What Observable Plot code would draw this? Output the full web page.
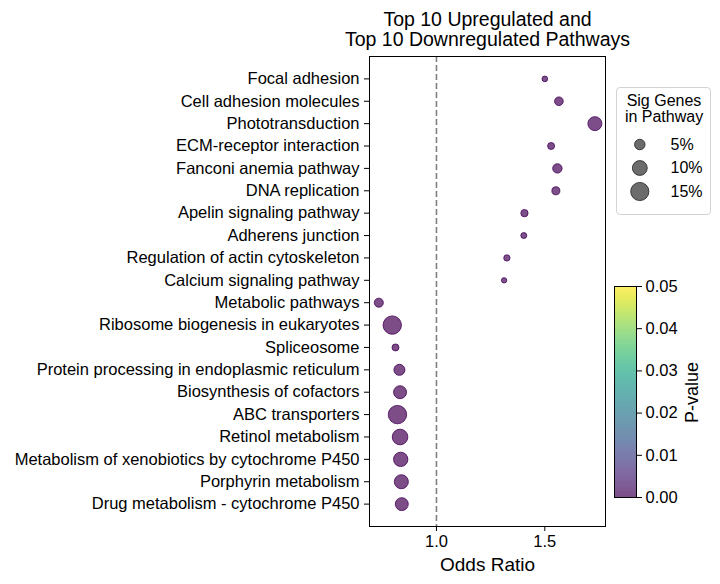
<!DOCTYPE html>
<html><head><meta charset="utf-8">
<script src="https://cdn.jsdelivr.net/npm/d3@7"></script>
<script src="https://cdn.jsdelivr.net/npm/@observablehq/plot@0.6"></script>
<style>
body{margin:0;background:#fff;}
#wrap{position:relative;width:720px;height:584px;font-family:"Liberation Sans",Arial,sans-serif;overflow:hidden;}
.abs{position:absolute;}
#sizeLegend{left:616px;top:87px;width:93px;height:126px;border:1px solid #d3d3d3;border-radius:4px;background:#fff;}
#cbar{left:604px;top:276px;}
#main{left:0;top:0;}
</style></head><body><div id="wrap"><div id="main" class="abs"></div><div id="cbar" class="abs"></div><div id="sizeLegend" class="abs"></div></div>
<script>
// ---- data ----
const pathways = [
  "Focal adhesion",
  "Cell adhesion molecules",
  "Phototransduction",
  "ECM-receptor interaction",
  "Fanconi anemia pathway",
  "DNA replication",
  "Apelin signaling pathway",
  "Adherens junction",
  "Regulation of actin cytoskeleton",
  "Calcium signaling pathway",
  "Metabolic pathways",
  "Ribosome biogenesis in eukaryotes",
  "Spliceosome",
  "Protein processing in endoplasmic reticulum",
  "Biosynthesis of cofactors",
  "ABC transporters",
  "Retinol metabolism",
  "Metabolism of xenobiotics by cytochrome P450",
  "Porphyrin metabolism",
  "Drug metabolism - cytochrome P450"
];
const oddsRatios = [1.500, 1.565, 1.731, 1.529, 1.558, 1.551, 1.406, 1.403, 1.325, 1.312,
                    0.734, 0.796, 0.811, 0.829, 0.832, 0.820, 0.832, 0.835, 0.838, 0.840];
const sigGenePct = [1.45, 3.4, 8.9, 2.2, 4.0, 2.9, 2.4, 1.6, 1.8, 1.3,
                    3.7, 15.3, 2.2, 5.5, 7.6, 15.3, 11.0, 9.3, 8.9, 7.6];
const pValues = [0.0004, 0.0003, 0.0002, 0.0005, 0.0003, 0.0004, 0.0006, 0.0007, 0.0008, 0.0009,
                 0.0001, 0.0001, 0.0002, 0.0001, 0.0001, 0.0001, 0.0001, 0.0001, 0.0001, 0.0001];
const xTicks = [1.0, 1.5];
const legendPct = [5, 10, 15];
const legendLabels = ["5%", "10%", "15%"];
const cbarTicks = [0, 0.01, 0.02, 0.03, 0.04, 0.05];
const titleText = "Top 10 Upregulated and\nTop 10 Downregulated Pathways";

// ---- shared scales ----
const FONT = '"Liberation Sans", Arial, sans-serif';
const rScale = () => ({type: "sqrt", domain: [0, 15], range: [0, 9.1]});
const colorScale = () => ({type: "linear", scheme: "viridis", domain: [0, 0.05]});

const data = pathways.map((p, i) => ({pathway: p, or: oddsRatios[i], pct: sigGenePct[i], p: pValues[i]}));

// ---- main chart ----
const main = Plot.plot({
  width: 720, height: 584,
  marginLeft: 369, marginRight: 115, marginTop: 56, marginBottom: 58,
  style: {fontFamily: FONT, fontSize: "16.5px", color: "black", background: "transparent", overflow: "visible"},
  x: {domain: [0.691, 1.780]},
  y: {type: "point", domain: pathways, padding: 1, round: false},
  r: rScale(),
  color: colorScale(),
  marks: [
    Plot.ruleX([1], {stroke: "#808080", strokeWidth: 1.6, strokeDasharray: "6,3"}),
    Plot.dot(data, {x: "or", y: "pathway", r: "pct", fill: "p", fillOpacity: 0.7, stroke: "p", strokeOpacity: 0.8, strokeWidth: 1}),
    Plot.frame({stroke: "black", strokeWidth: 1}),
    Plot.axisY({tickSize: 5, tickPadding: 5, label: null, fontSize: 16.5}),
    Plot.axisX(xTicks, {tickSize: 5, tickPadding: 4, tickFormat: d => d.toFixed(1), label: null, fontSize: 16.5}),
    Plot.text(["Odds Ratio"], {text: d => d, frameAnchor: "bottom", lineAnchor: "bottom", dy: 44, fontSize: 19}),
    Plot.text([titleText], {text: d => d, frameAnchor: "top", lineAnchor: "top", dy: -45, fontSize: 19.5, lineHeight: 1.03})
  ]
});
document.getElementById("main").appendChild(main);

// ---- colorbar ----
const cbar = Plot.plot({
  width: 116, height: 231,
  marginLeft: 10, marginRight: 84, marginTop: 10, marginBottom: 10,
  style: {fontFamily: FONT, fontSize: "16.5px", color: "black", background: "transparent", overflow: "visible"},
  x: {domain: [0, 1], axis: null},
  y: {domain: [0, 0.05]},
  color: colorScale(),
  marks: [
    Plot.raster({fill: (x, y) => y, x1: 0, x2: 1, y1: 0, y2: 0.05, fillOpacity: 0.7}),
    Plot.frame({stroke: "black", strokeWidth: 1}),
    Plot.axisY(cbarTicks, {anchor: "right", tickSize: 5, tickPadding: 4, tickFormat: d => d.toFixed(2), label: null, fontSize: 16.5}),
    Plot.text(["P-value"], {text: d => d, frameAnchor: "right", dx: 56, dy: -30, rotate: -90, fontSize: 18})
  ]
});
document.getElementById("cbar").appendChild(cbar);

// ---- size legend ----
const sizeLeg = Plot.plot({
  width: 93, height: 126,
  marginLeft: 0, marginRight: 0, marginTop: 0, marginBottom: 0,
  style: {fontFamily: FONT, fontSize: "16px", color: "black", background: "transparent", overflow: "visible"},
  y: {type: "point", domain: legendLabels, range: [56, 103], padding: 0, round: false, axis: null},
  r: rScale(),
  marks: [
    Plot.text(["Sig Genes\nin Pathway"], {text: d => d, frameAnchor: "top", lineAnchor: "top", dy: 6, fontSize: 16, lineHeight: 1.0}),
    Plot.dot(legendPct, {y: (d, i) => legendLabels[i], r: d => d, frameAnchor: "left", dx: 22.3, fill: "#333", fillOpacity: 0.72, stroke: "#222", strokeOpacity: 0.8, strokeWidth: 1}),
    Plot.text(legendLabels, {text: d => d, y: d => d, frameAnchor: "left", dx: 53, textAnchor: "start", fontSize: 16})
  ]
});
document.getElementById("sizeLegend").appendChild(sizeLeg);
</script>
</body></html>
